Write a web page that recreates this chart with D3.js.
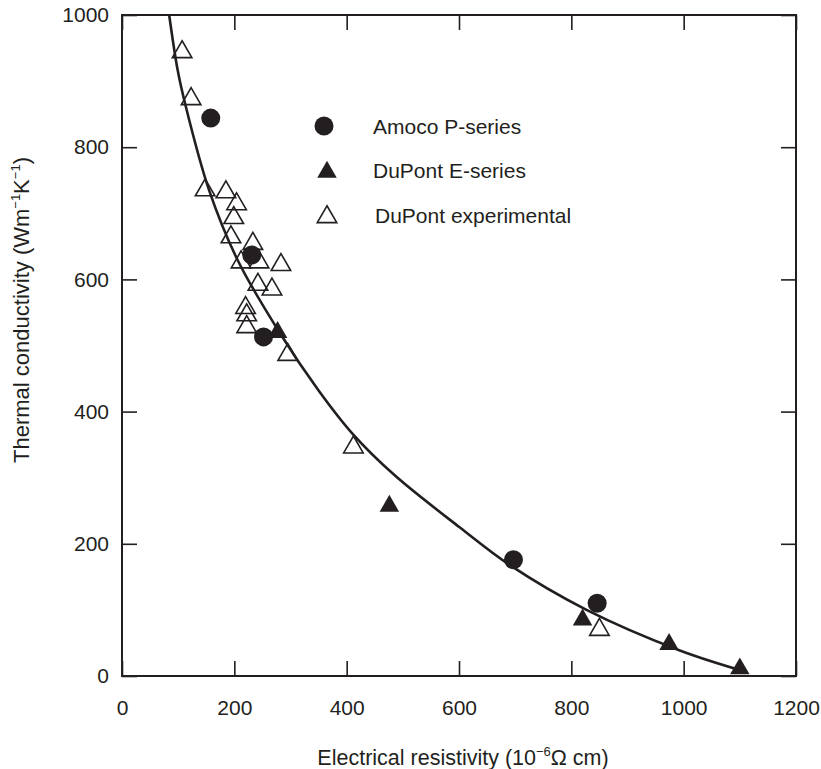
<!DOCTYPE html>
<html>
<head>
  <meta charset="utf-8">
  <title>Thermal conductivity vs electrical resistivity</title>
  <script src="https://cdn.jsdelivr.net/npm/d3@7"></script>
  <style>
    body { margin: 0; background: #fff; }
    text { font-family: "Liberation Sans", Arial, sans-serif; fill: #231f20; }
  </style>
</head>
<body>
<script>
// data
var amocoX = [158, 231, 252, 697, 846];
var amocoY = [844, 637, 513, 176, 110];

var eSeriesX = [277, 476, 820, 974, 1100];
var eSeriesY = [520, 257, 85, 48, 11];

var expX = [107, 123, 148, 185, 204, 199, 194, 233, 212, 244, 283, 242, 267, 220, 222, 222, 295, 412, 850];
var expY = [944, 873, 735, 732, 714, 693, 664, 654, 626, 626, 622, 592, 585, 557, 546, 528, 486, 346, 70];

// fitted curve, points
var curveX = [84, 99, 112, 155, 206, 281, 350, 411, 485, 601, 690, 827, 992, 1100];
var curveY = [1000, 917, 867, 735, 629, 519, 432, 366, 304, 225, 168, 100, 39, 9];

var xTicks = [0, 200, 400, 600, 800, 1000, 1200];
var yTicks = [0, 200, 400, 600, 800, 1000];

var legendNames = ["Amoco P-series", "DuPont E-series", "DuPont experimental"];

var width = 821, height = 769;
var margin = { top: 15, right: 25, bottom: 93, left: 122 };
var ink = "#231f20";

var svg = d3.select("body").append("svg")
  .attr("width", width).attr("height", height);

var x = d3.scaleLinear().domain([0, 1200]).range([margin.left, width - margin.right]);
var y = d3.scaleLinear().domain([0, 1000]).range([height - margin.bottom, margin.top]);

var tickLen = 15;

// axes: labels outside on bottom / left, ticks pointing inward on all four sides
var gx = svg.append("g")
  .attr("transform", "translate(0," + y(0) + ")")
  .call(d3.axisBottom(x).tickValues(xTicks).tickSize(-tickLen).tickPadding(24).tickFormat(d3.format("d")));
var gy = svg.append("g")
  .attr("transform", "translate(" + x(0) + ",0)")
  .call(d3.axisLeft(y).tickValues(yTicks).tickSize(-tickLen).tickPadding(13).tickFormat(d3.format("d")));
var gt = svg.append("g")
  .attr("transform", "translate(0," + y(1000) + ")")
  .call(d3.axisTop(x).tickValues(xTicks).tickSize(-tickLen).tickFormat(""));
var gr = svg.append("g")
  .attr("transform", "translate(" + x(1200) + ",0)")
  .call(d3.axisRight(y).tickValues(yTicks).tickSize(-tickLen).tickFormat(""));

[gx, gy, gt, gr].forEach(function(g) {
  g.select(".domain").remove();
  g.selectAll(".tick line").attr("stroke", ink).attr("stroke-width", 1.6);
  g.selectAll(".tick text").attr("font-size", "21px").attr("fill", ink)
    .style("font-family", "'Liberation Sans', Arial, sans-serif");
});

// frame
svg.append("rect")
  .attr("x", x(0)).attr("y", y(1000))
  .attr("width", x(1200) - x(0)).attr("height", y(0) - y(1000))
  .attr("fill", "none").attr("stroke", ink).attr("stroke-width", 2);

// axis titles
var xt = svg.append("text")
  .attr("x", 463).attr("y", 765)
  .attr("text-anchor", "middle").attr("font-size", "21.5px");
xt.append("tspan").text("Electrical resistivity (10");
xt.append("tspan").attr("dy", -9).attr("font-size", "13px").text("\u22126");
xt.append("tspan").attr("dy", 9).text("\u03A9 cm)");

var yt = svg.append("text")
  .attr("transform", "translate(29,310) rotate(-90)")
  .attr("text-anchor", "middle").attr("font-size", "22px");
yt.append("tspan").text("Thermal conductivity (Wm");
yt.append("tspan").attr("dy", -9).attr("font-size", "13px").text("\u22121");
yt.append("tspan").attr("dy", 9).text("K");
yt.append("tspan").attr("dy", -9).attr("font-size", "13px").text("\u22121");
yt.append("tspan").attr("dy", 9).text(")");

// fitted curve
var curveData = curveX.map(function(d, i) { return [d, curveY[i]]; });
svg.append("path")
  .datum(curveData)
  .attr("fill", "none")
  .attr("stroke", ink)
  .attr("stroke-width", 2.6)
  .attr("d", d3.line()
    .x(function(d) { return x(d[0]); })
    .y(function(d) { return y(d[1]); })
    .curve(d3.curveCatmullRom.alpha(0.5)));

var tri = d3.symbol().type(d3.symbolTriangle).size(165);

// experimental (open triangles)
svg.append("g").selectAll("path")
  .data(expX.map(function(d, i) { return [d, expY[i]]; }))
  .enter().append("path")
  .attr("d", tri)
  .attr("transform", function(d) { return "translate(" + x(d[0]) + "," + y(d[1]) + ")"; })
  .attr("fill", "none")
  .attr("stroke", ink)
  .attr("stroke-width", 1.6);

// E-series (filled triangles)
svg.append("g").selectAll("path")
  .data(eSeriesX.map(function(d, i) { return [d, eSeriesY[i]]; }))
  .enter().append("path")
  .attr("d", tri)
  .attr("transform", function(d) { return "translate(" + x(d[0]) + "," + y(d[1]) + ")"; })
  .attr("fill", ink);

// Amoco (filled circles)
svg.append("g").selectAll("circle")
  .data(amocoX.map(function(d, i) { return [d, amocoY[i]]; }))
  .enter().append("circle")
  .attr("cx", function(d) { return x(d[0]); })
  .attr("cy", function(d) { return y(d[1]); })
  .attr("r", 9.5)
  .attr("fill", ink);

// legend
var legend = svg.append("g");
var legY = [126, 170, 215];
legend.append("circle").attr("cx", 324).attr("cy", legY[0]).attr("r", 9.5).attr("fill", ink);
legend.append("path").attr("d", tri).attr("transform", "translate(327," + (legY[1] + 2) + ")").attr("fill", ink);
legend.append("path").attr("d", tri).attr("transform", "translate(327," + (legY[2] + 2) + ")")
  .attr("fill", "none").attr("stroke", ink).attr("stroke-width", 1.6);
legend.selectAll("text")
  .data(legendNames)
  .enter().append("text")
  .attr("x", function(d, i) { return i == 2 ? 375 : 373; })
  .attr("y", function(d, i) { return legY[i] + 7.5; })
  .attr("font-size", "21px")
  .text(function(d) { return d; });
</script>
</body>
</html>
